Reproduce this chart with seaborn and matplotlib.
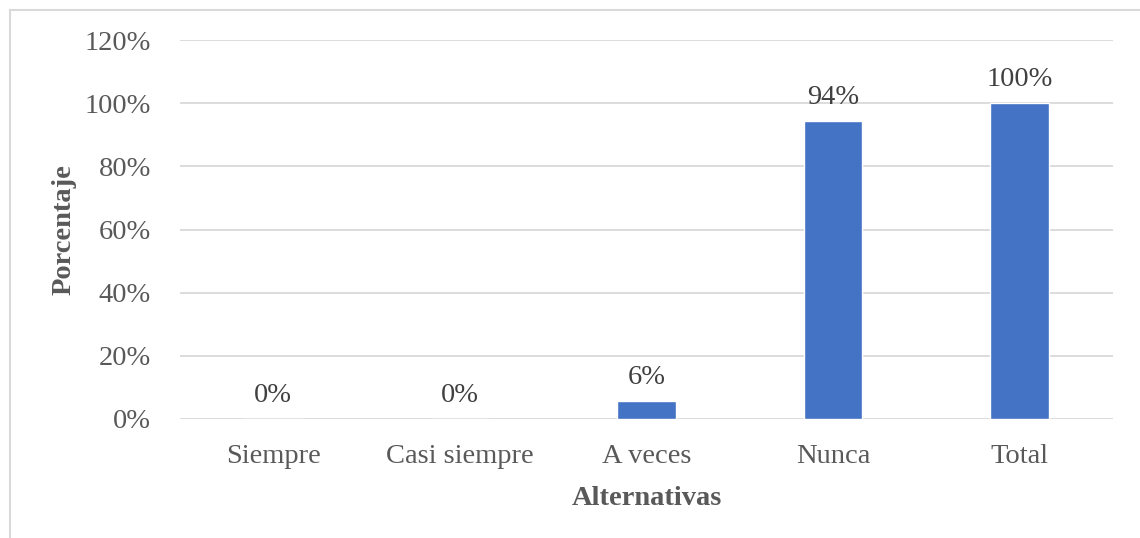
import matplotlib
matplotlib.use("Agg")
import matplotlib.pyplot as plt
import seaborn as sns
import pandas as pd
from matplotlib.patches import Rectangle

categorias = ["Siempre", "Casi siempre", "A veces", "Nunca", "Total"]
porcentajes = [0.0, 0.0, 5.7, 94.3, 100.0]
yticks = [0, 20, 40, 60, 80, 100, 120]

df = pd.DataFrame({"Alternativas": categorias, "Porcentaje": porcentajes})

sns.set_theme(style="white")
plt.rcParams["font.family"] = ["Liberation Serif", "DejaVu Serif"]

W, H = 1140, 538
fig = plt.figure(figsize=(W / 100, H / 100), dpi=100)
ax = fig.add_axes([180 / W, 1 - 419 / H, (1113 - 180) / W, (419 - 40) / H])

gris = "#595959"
fs = 20.5
sns.barplot(data=df, x="Alternativas", y="Porcentaje", color="#4472C4",
            width=0.315, saturation=1, ax=ax, zorder=3)

ax.set_ylim(0, 120)
ax.set_xlim(-0.5, len(categorias) - 0.5)
ax.set_yticks(yticks)
ax.set_yticklabels([f"{v}%" for v in yticks])
for v in yticks:
    ax.axhline(v, color="#D9D9D9", lw=1.3, zorder=1)
for s in ax.spines.values():
    s.set_visible(False)
ax.tick_params(axis="both", length=0, labelsize=fs, labelcolor=gris)
ax.tick_params(axis="y", pad=21)
ax.tick_params(axis="x", pad=18)

for i, v in enumerate(porcentajes):
    ax.text(i, v + 3.6, f"{v:.0f}%", ha="center", va="bottom",
            fontsize=fs, color="#404040")

ax.set_xlabel("Alternativas", fontsize=fs, fontweight="bold", color=gris, labelpad=12)
ax.set_ylabel("Porcentaje", fontsize=fs, fontweight="bold", color=gris, labelpad=6)

fig.patches.append(Rectangle((10 / W, -0.1), 1.2, 1 - 10 / H + 0.1,
                             transform=fig.transFigure, fill=False,
                             edgecolor="#D9D9D9", lw=1.5))

fig.savefig("out.png", dpi=100)
